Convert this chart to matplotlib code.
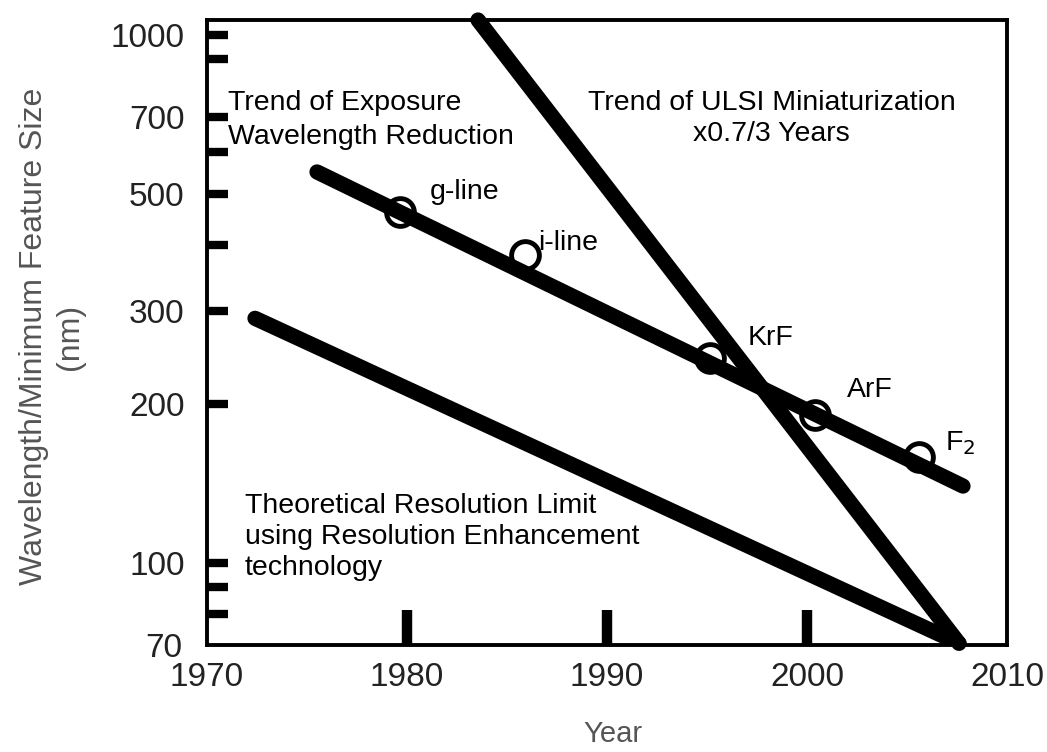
import matplotlib
matplotlib.use("Agg")
import matplotlib.pyplot as plt
from matplotlib.ticker import FixedLocator, FixedFormatter

plt.rcParams['font.family'] = ['Liberation Sans', 'DejaVu Sans']

# ---- data (year, nm) ----
wavelength_years = [1975.5, 2007.8]
wavelength_nm = [551, 140]

ulsi_years = [1983.55, 2007.6]
ulsi_nm = [1069, 70.5]

limit_years = [1972.4, 2007.6]
limit_nm = [291, 70.5]

source_names = ["g-line", "i-line", "KrF", "ArF", "F$_2$"]
source_years = [1979.65, 1985.9, 1995.15, 2000.4, 2005.6]
source_nm = [463, 383, 245, 191, 159]

x_major_ticks = [1980, 1990, 2000]
x_edge_ticks = [1970, 2010]
y_tick_values = [80, 90, 100, 200, 300, 400, 500, 600, 700, 900, 1000]
y_tick_labels = ["", "", "100", "200", "300", "", "500", "", "700", "", "1000"]
y_bottom_label = [70]

fig = plt.figure(figsize=(10.47, 7.52), dpi=100)
ax = fig.add_axes([0.1977, 0.1423, 0.7641, 0.8311])

ax.set_yscale('log')
ax.set_xlim(1970, 2010)
ax.set_ylim(70, 1069)

lw = 11
ax.plot(limit_years, limit_nm, color='black', lw=lw, solid_capstyle='round', zorder=3)
ax.plot(wavelength_years, wavelength_nm, color='black', lw=lw, solid_capstyle='round', zorder=3)
ax.plot(ulsi_years, ulsi_nm, color='black', lw=lw, solid_capstyle='round', zorder=3, clip_on=False)
ax.plot(source_years, source_nm, linestyle='none', marker='o', markersize=20,
        markerfacecolor='white', markeredgecolor='black', markeredgewidth=3.5, zorder=2)

# ticks
ax.xaxis.set_major_locator(FixedLocator(x_major_ticks))
ax.xaxis.set_major_formatter(FixedFormatter([str(v) for v in x_major_ticks]))
ax.xaxis.set_minor_locator(FixedLocator(x_edge_ticks))
ax.xaxis.set_minor_formatter(FixedFormatter([str(v) for v in x_edge_ticks]))

ax.yaxis.set_major_locator(FixedLocator(y_tick_values))
ax.yaxis.set_major_formatter(FixedFormatter(y_tick_labels))
ax.yaxis.set_minor_locator(FixedLocator(y_bottom_label))
ax.yaxis.set_minor_formatter(FixedFormatter([str(v) for v in y_bottom_label]))

ax.tick_params(axis='x', which='major', direction='in', length=25, width=7.5,
               labelsize=24, pad=12, labelcolor='#222222')
ax.tick_params(axis='x', which='minor', direction='in', length=0, width=0,
               labelsize=24, pad=12, labelcolor='#222222')
ax.tick_params(axis='y', which='major', direction='in', length=15, width=6,
               labelsize=24, pad=16, labelcolor='#222222')
ax.tick_params(axis='y', which='minor', direction='in', length=0, width=0,
               labelsize=24, pad=18, labelcolor='#222222')

for s in ax.spines.values():
    s.set_linewidth(2.8)

ax.set_xlabel("Year", fontsize=21, color='#555555')
ax.xaxis.set_label_coords(0.5075, -0.12)
ax.set_ylabel("Wavelength/Minimum Feature Size\n(nm)", fontsize=23, color='#555555',
              linespacing=1.25)
ax.yaxis.set_label_coords(-0.1525, 0.493)

fs = 20.5
ax.text(0.026, 0.84, "Trend of Exposure\nWavelength Reduction", transform=ax.transAxes,
        ha='left', va='center', fontsize=fs, linespacing=1.4)
ax.text(0.706, 0.843, "Trend of ULSI Miniaturization\nx0.7/3 Years", transform=ax.transAxes,
        ha='center', va='center', fontsize=fs, linespacing=1.25)
ax.text(0.0475, 0.173, "Theoretical Resolution Limit\nusing Resolution Enhancement\ntechnology",
        transform=ax.transAxes, ha='left', va='center', fontsize=fs, linespacing=1.25)

label_pos = [(0.279, 0.725), (0.414, 0.643), (0.676, 0.491), (0.8, 0.408), (0.9225, 0.323)]
for name, (lx, ly) in zip(source_names, label_pos):
    ax.text(lx, ly, name, transform=ax.transAxes, ha='left', va='center', fontsize=fs)

fig.savefig("out.png", dpi=100, facecolor='white')
